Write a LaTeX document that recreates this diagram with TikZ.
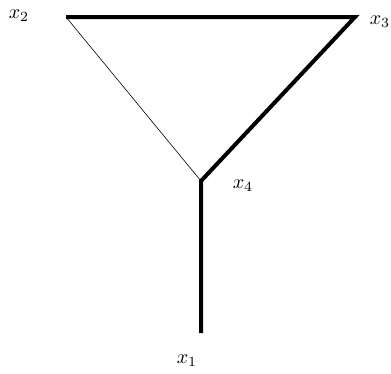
\documentclass[tikz,border=0pt]{standalone}
\begin{document}
\begin{tikzpicture}[x=1pt,y=-1pt,
  thickedge/.style={line width=4pt,line join=miter,line cap=butt},
  thinedge/.style={line width=0.6pt},
  lab/.style={inner sep=0pt,scale=2}]
\useasboundingbox (0,0) rectangle (391,373);
\coordinate (x2) at (66,17);
\coordinate (x3) at (355,17);
\coordinate (x4) at (201,181);
\coordinate (x1) at (201,333);
\draw[thinedge] (x2) -- (x4);
\draw[thickedge] (x2) -- (x3) -- (x4) -- (x1);
\node[lab] (l2) at (19,16) {$x_2$};
\node[lab] (l3) at (380,22) {$x_3$};
\node[lab] (l4) at (243,186) {$x_4$};
\node[lab] (l1) at (187,361) {$x_1$};
\end{tikzpicture}
\end{document}
